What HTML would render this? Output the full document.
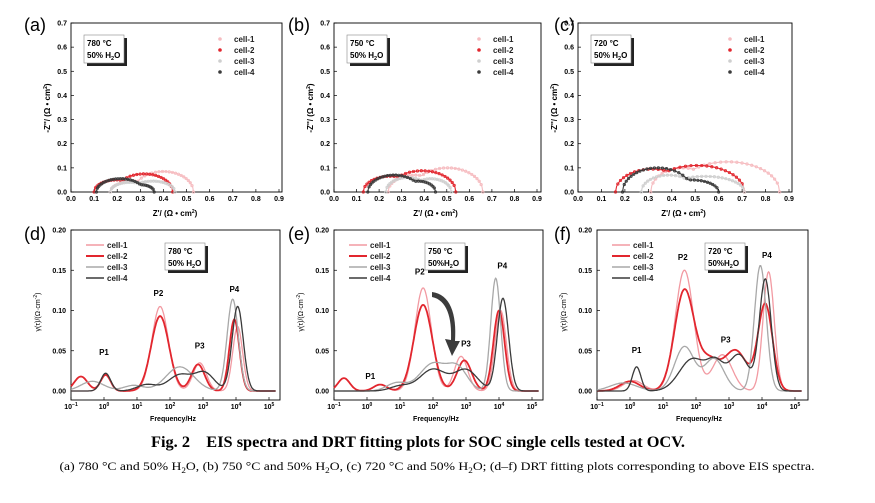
<!DOCTYPE html>
<html><head><meta charset="utf-8"><style>
html,body{margin:0;padding:0;background:#fff;}
svg{display:block;font-family:"Liberation Sans",Arial,sans-serif;}
</style></head><body>
<svg id="s" width="875" height="503" viewBox="0 0 875 503" xmlns="http://www.w3.org/2000/svg">
<rect width="875" height="503" fill="#fff"/>
<text x="418" y="447" font-family="Liberation Serif,serif" font-weight="bold" font-size="15.5" text-anchor="middle" style="white-space:pre" textLength="534" lengthAdjust="spacingAndGlyphs">Fig. 2    EIS spectra and DRT fitting plots for SOC single cells tested at OCV.</text>
<text x="437" y="470" font-family="Liberation Serif,serif" font-size="12" text-anchor="middle" textLength="755" lengthAdjust="spacingAndGlyphs">(a) 780 °C and 50% H<tspan font-size="8" dy="3">2</tspan><tspan dy="-3">O, (b) 750 °C and 50% H</tspan><tspan font-size="8" dy="3">2</tspan><tspan dy="-3">O, (c) 720 °C and 50% H</tspan><tspan font-size="8" dy="3">2</tspan><tspan dy="-3">O; (d–f) DRT fitting plots corresponding to above EIS spectra.</tspan></text>
</svg>
<script>
(function(){
const S=document.getElementById('s');const NS='http://www.w3.org/2000/svg';
function el(t,a,txt){const e=document.createElementNS(NS,t);for(const k in a)e.setAttribute(k,a[k]);if(txt!==undefined)e.innerHTML=txt;S.appendChild(e);return e;}
const C1='#f29aa2',C2='#e2262e',C3='#a8a8a8',C4='#3a3a3a';
const N1='#f6bcc0',N3='#cfcfcf';
const topP=[
 {L:71,X9:279,R:282,lab:'(a)',lx:24,T:'780 °C',H:'50% H',cells:[
  [N1,0.17,0.33,0.53,0.045,0.085],
  [C2,0.10,0.25,0.44,0.05,0.075],
  [N3,0.17,0.30,0.45,0.04,0.045],
  [C4,0.11,0.27,0.36,0.055,0.03]]},
 {L:334,X9:537,R:541,lab:'(b)',lx:288,T:'750 °C',H:'50%  H',cells:[
  [N1,0.24,0.42,0.66,0.07,0.1],
  [C2,0.13,0.31,0.54,0.065,0.088],
  [N3,0.23,0.38,0.52,0.06,0.055],
  [C4,0.15,0.33,0.45,0.07,0.045]]},
 {L:578,X9:789,R:792,lab:'(c)',lx:554,T:'720 °C',H:'50% H',cells:[
  [N1,0.31,0.52,0.86,0.1,0.125],
  [C2,0.16,0.40,0.71,0.095,0.11],
  [N3,0.27,0.45,0.71,0.07,0.065],
  [C4,0.19,0.42,0.60,0.1,0.05]]}];
function arc(x,a,b,h){if(x<=a||x>=b)return 0;const t=(2*x-a-b)/(b-a);return h*Math.sqrt(1-t*t);}
topP.forEach(p=>{
 const T=23,B=192,sx=(p.X9-p.L)/0.9,sy=(B-T)/0.7;
 const X=v=>p.L+v*sx,Y=v=>B-v*sy;
 el('text',{x:p.lx,y:31,'font-size':18},p.lab);
 for(let i=0;i<=9;i++){const x=X(i/10);el('line',{x1:x,x2:x,y1:B,y2:B-3,stroke:'#000','stroke-width':0.7});el('text',{x:x,y:B+9,'font-size':7,'font-weight':'bold','text-anchor':'middle'},(i/10).toFixed(1));}
 for(let i=0;i<=7;i++){const y=Y(i/10);el('line',{x1:p.L,x2:p.L+3,y1:y,y2:y,stroke:'#000','stroke-width':0.7});el('text',{x:p.L-4,y:y+2.5,'font-size':7,'font-weight':'bold','text-anchor':'end'},(i/10).toFixed(1));}
 el('rect',{x:p.L,y:T,width:p.R-p.L,height:B-T,fill:'none',stroke:'#000','stroke-width':0.9});
 el('text',{x:p.L+(p.X9-p.L)/2,y:216,'font-size':8,'font-weight':'bold','text-anchor':'middle'},"Z'/ (Ω • cm<tspan font-size='5' dy='-3'>2</tspan><tspan dy='3'>)</tspan>");
 el('text',{x:0,y:0,'font-size':8,'font-weight':'bold','text-anchor':'middle',transform:'translate('+(p.L-21)+',108) rotate(-90)'},"-Z''/ (Ω • cm<tspan font-size='5' dy='-3'>2</tspan><tspan dy='3'>)</tspan>");
 el('rect',{x:p.L+16,y:38,width:40,height:28,fill:'#222'});
 el('rect',{x:p.L+13,y:35,width:40,height:28,fill:'#fff',stroke:'#888','stroke-width':0.6});
 el('text',{x:p.L+16,y:46,'font-size':8,'font-weight':'bold'},p.T);
 el('text',{x:p.L+16,y:58,'font-size':8,'font-weight':'bold'},p.H+"<tspan font-size='5.5' dy='2'>2</tspan><tspan dy='-2'>O</tspan>");
 const lgx=p.R-62;
 p.cells.forEach((c,i)=>{el('circle',{cx:lgx,cy:39+i*11,r:1.8,fill:c[0]});el('text',{x:lgx+14,y:42+i*11,'font-size':8,'font-weight':'bold',fill:'#222'},'cell-'+(i+1));});
 p.cells.forEach(c=>{
  const col=c[0],x0=c[1],b=c[2],x2=c[3],h1=c[4],h2=c[5];
  const a1e=b+(b-x0)*0.3,a2s=b-(x2-b)*0.3;
  const f=x=>Math.max(arc(x,x0,a1e,h1),arc(x,a2s,x2,h2));
  let pts=[];const n=60;
  for(let k=0;k<=n;k++){const u=k/n;const w=(1-Math.cos(Math.PI*u))/2;const x=x0+(x2-x0)*(0.5*u+0.5*w);pts.push([x,f(x)]);}
  el('path',{d:'M'+pts.map(q=>X(q[0]).toFixed(1)+','+Y(q[1]).toFixed(1)).join('L'),fill:'none',stroke:col,'stroke-width':1.1});
  pts.forEach((q,k)=>{if(k%2==0)el('circle',{cx:X(q[0]),cy:Y(q[1]),r:1.2,fill:'none',stroke:col,'stroke-width':0.8});});
 });
});
const botP=[
 {L:71,R:280,lab:'(d)',lx:24,T:'780 °C',H:'50% H',bx:165,cells:[
  [C1,[[0.02,0.05,0.15],[0.105,1.7,0.25],[0.035,2.9,0.2],[0.08,4.05,0.15]]],
  [C2,[[0.018,-0.7,0.2],[0.02,0.05,0.15],[0.093,1.7,0.27],[0.033,2.85,0.2],[0.089,3.95,0.15]]],
  [C3,[[0.012,-0.35,0.35],[0.007,0.9,0.3],[0.03,2.3,0.42],[0.114,3.9,0.17]]],
  [C4,[[0.022,0.05,0.15],[0.008,1.3,0.3],[0.02,2.3,0.35],[0.022,3.05,0.3],[0.105,4.05,0.17]]]],
  P:[['P1',0.0,0.045],['P2',1.65,0.118],['P3',2.9,0.053],['P4',3.95,0.123]]},
 {L:334,R:543,lab:'(e)',lx:288,T:'750 °C',H:'50%H',bx:425,cells:[
  [C1,[[0.016,-0.7,0.18],[0.008,0.4,0.2],[0.128,1.7,0.25],[0.043,2.85,0.2],[0.1,4.05,0.17]]],
  [C2,[[0.016,-0.7,0.18],[0.008,0.4,0.2],[0.107,1.7,0.28],[0.038,2.95,0.22],[0.1,4.0,0.17]]],
  [C3,[[0.01,0.9,0.3],[0.034,2.0,0.4],[0.027,2.75,0.3],[0.14,3.9,0.15]]],
  [C4,[[0.006,1.0,0.3],[0.027,2.0,0.4],[0.026,3.0,0.35],[0.115,4.12,0.17]]]],
  P:[['P1',0.1,0.015],['P2',1.6,0.145],['P3',3.0,0.055],['P4',4.1,0.152]]},
 {L:597,R:808,lab:'(f)',lx:554,T:'720 °C',H:'50%H',bx:705,cells:[
  [C1,[[0.013,0.1,0.3],[0.15,1.65,0.28],[0.045,2.8,0.3],[0.148,4.2,0.17]]],
  [C2,[[0.012,0.0,0.3],[0.125,1.65,0.3],[0.035,2.4,0.3],[0.05,3.2,0.35],[0.107,4.1,0.22]]],
  [C3,[[0.01,-0.2,0.4],[0.055,1.65,0.3],[0.04,2.55,0.3],[0.156,3.95,0.18]]],
  [C4,[[0.03,0.2,0.13],[0.04,1.9,0.4],[0.03,2.6,0.25],[0.045,3.3,0.3],[0.138,4.1,0.18]]]],
  P:[['P1',0.2,0.047],['P2',1.6,0.163],['P3',2.9,0.06],['P4',4.15,0.165]]}];
botP.forEach(p=>{
 const T=230,B=400,Y0=391,sy=(Y0-T)/0.2,D=33;
 const X=v=>p.L+(v+1)*D,Y=v=>Y0-v*sy;
 el('text',{x:p.lx,y:240,'font-size':18},p.lab);
 const ex=['−1','0','1','2','3','4','5'];
 for(let i=-1;i<=5;i++){const x=X(i);el('line',{x1:x,x2:x,y1:B,y2:B-3,stroke:'#000','stroke-width':0.7});el('text',{x:x,y:B+9,'font-size':7,'font-weight':'bold','text-anchor':'middle'},"10<tspan font-size='5' dy='-3'>"+ex[i+1]+"</tspan>");}
 for(let i=0;i<=4;i++){const y=Y(i*0.05);el('line',{x1:p.L,x2:p.L+3,y1:y,y2:y,stroke:'#000','stroke-width':0.7});el('text',{x:p.L-5,y:y+2.5,'font-size':7,'font-weight':'bold','text-anchor':'end'},(i*0.05).toFixed(2));}
 el('rect',{x:p.L,y:T,width:p.R-p.L,height:B-T,fill:'none',stroke:'#000','stroke-width':0.9});
 el('text',{x:p.L+102,y:421,'font-size':7,'font-weight':'bold','text-anchor':'middle'},'Frequency/Hz');
 el('text',{x:0,y:0,'font-size':7,'text-anchor':'middle',transform:'translate('+(p.L-31)+',312) rotate(-90)'},"γ(τ)/(Ω·cm<tspan font-size='5' dy='-3'>-2</tspan><tspan dy='3'>)</tspan>");
 el('rect',{x:p.bx+3,y:246,width:40,height:27,fill:'#222'});
 el('rect',{x:p.bx,y:243,width:40,height:27,fill:'#fff',stroke:'#888','stroke-width':0.6});
 el('text',{x:p.bx+3,y:254,'font-size':8,'font-weight':'bold'},p.T);
 el('text',{x:p.bx+3,y:266,'font-size':8,'font-weight':'bold'},p.H+"<tspan font-size='5.5' dy='2'>2</tspan><tspan dy='-2'>O</tspan>");
 p.cells.forEach((c,i)=>{const y=245+i*11;el('line',{x1:p.L+15,x2:p.L+33,y1:y,y2:y,stroke:c[0],'stroke-width':i==1?2:1.4});el('text',{x:p.L+36,y:y+3,'font-size':8,'font-weight':'bold',fill:'#222'},'cell-'+(i+1));});
 p.cells.forEach((c,i)=>{let d='';for(let v=-1;v<=5.2;v+=0.02){let y=0;c[1].forEach(g=>{y+=g[0]*Math.exp(-0.5*Math.pow((v-g[1])/g[2],2));});const x=X(v);if(x>p.R)break;d+=(d?'L':'M')+x.toFixed(1)+','+Y(y).toFixed(1);}
  el('path',{d:d,fill:'none',stroke:c[0],'stroke-width':i==1?1.8:1.3});});
 p.P.forEach(q=>el('text',{x:X(q[1]),y:Y(q[2]),'font-size':8,'font-weight':'bold','text-anchor':'middle'},q[0]));
});
el('path',{d:'M432,297 C447,300 452,318 451,340 L445,339 L452,356 L460,341 L455,341 C457,314 450,294 432,292 Z',fill:'#3c3c3c'});
})();
</script>
</body></html>
